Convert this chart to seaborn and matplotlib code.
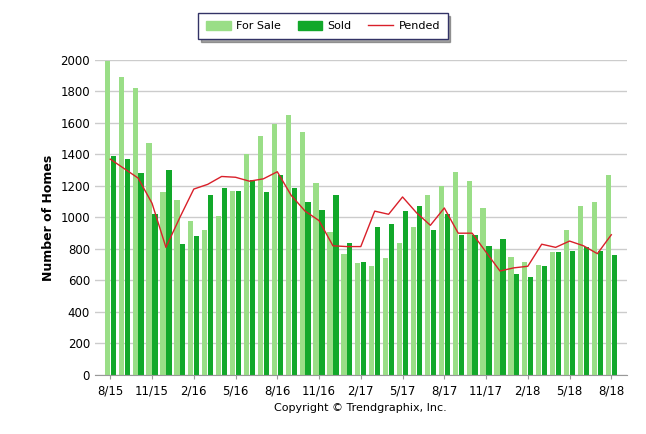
import matplotlib
matplotlib.use("Agg")
import matplotlib.pyplot as plt
import seaborn as sns
import pandas as pd
import numpy as np

months = []
for i in range(37):
    m = (8 + i - 1) % 12 + 1
    y = 15 + (8 + i - 1) // 12
    months.append(f"{m}/{y}")
for_sale = [1990,1890,1820,1470,1160,1110,980,920,1010,1170,1400,1520,1590,1650,1540,1220,910,770,710,690,740,840,940,1140,1200,1290,1230,1060,800,750,720,700,780,920,1070,1100,1270]
sold = [1390,1370,1280,1020,1300,830,880,1140,1190,1170,1240,1160,1270,1190,1100,1050,1140,840,720,940,960,1040,1070,920,1020,890,890,820,860,640,620,690,780,790,810,790,760]
pended = [1370,1310,1250,1090,810,1000,1180,1210,1260,1255,1230,1245,1290,1140,1040,980,820,815,815,1040,1020,1130,1030,950,1060,900,900,780,660,680,690,830,810,850,820,770,890]

df = pd.DataFrame({"Month": months * 2, "Value": for_sale + sold,
                   "Series": ["For Sale"] * 37 + ["Sold"] * 37})

fig, ax = plt.subplots(figsize=(6.46, 4.34), dpi=100)
fig.subplots_adjust(left=0.147, right=0.97, top=0.862, bottom=0.136)
sns.barplot(data=df, x="Month", y="Value", hue="Series", order=months,
            palette={"For Sale": "#9ade87", "Sold": "#12a82a"}, width=0.85,
            gap=0.12, ax=ax, legend=False, saturation=1)
sns.lineplot(x=np.arange(37), y=pended, color="#d9202a", lw=1, ax=ax)

ax.set_ylim(0, 2000)
ax.set_yticks(range(0, 2001, 200))
ax.set_xlim(-1.1, 37.1)
ticks = list(range(0, 37, 3))
ax.set_xticks(ticks)
ax.set_xticklabels([months[i] for i in ticks], fontsize=8.5)
ax.tick_params(axis="y", labelsize=8.5, length=0)
ax.tick_params(axis="x", length=3, color="#999999")
ax.yaxis.grid(True, color="#cccccc", lw=1)
ax.set_axisbelow(True)
for s in ["top", "right", "left"]:
    ax.spines[s].set_visible(False)
ax.spines["bottom"].set_color("#999999")
ax.set_ylabel("Number of Homes", fontsize=9, fontweight="bold")
ax.set_xlabel("Copyright © Trendgraphix, Inc.", fontsize=8)

from matplotlib.patches import Patch
from matplotlib.lines import Line2D
handles = [Patch(color="#9ade87"), Patch(color="#12a82a"), Line2D([], [], color="#d9202a", lw=1)]
leg = fig.legend(handles, ["For Sale", "Sold", "Pended"], loc="center", bbox_to_anchor=(0.5, 0.94),
                 ncol=3, fontsize=8, frameon=True, fancybox=False, shadow=True,
                 handlelength=2.2, handleheight=0.9, edgecolor="#333366", borderpad=0.7,
                 columnspacing=1.5, handletextpad=0.5)
fig.savefig("out.png")
